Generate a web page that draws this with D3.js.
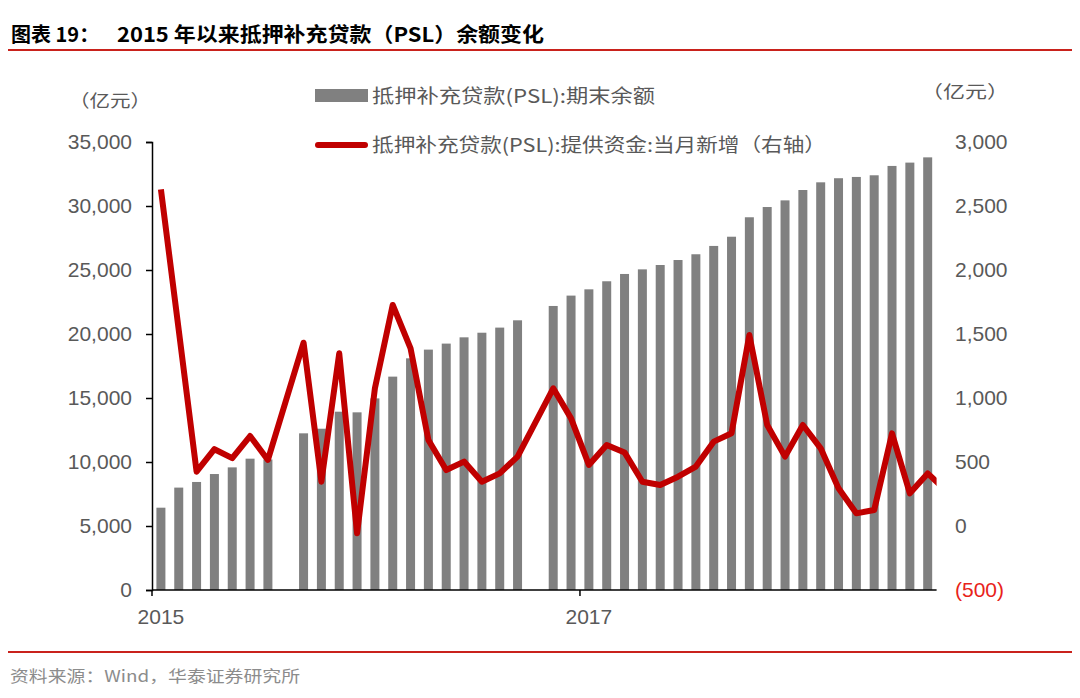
<!DOCTYPE html>
<html><head><meta charset="utf-8">
<script src="https://cdn.jsdelivr.net/npm/d3@7"></script>
<style>body{margin:0;background:#fff}svg{display:block}</style>
</head><body><svg id="c" width="1080" height="698"></svg>
<script>
// ---- data ----
const categories = (() => { const a = []; for (let y = 2015; y <= 2018; y++) for (let m = 1; m <= 12; m++) a.push(y + "-" + String(m).padStart(2, "0")); return a.slice(0, 45); })();
const balance = [6430, 8000, 8440, 9060, 9580, 10260, 10200, null, 12240, 12600, 13930, 13880, 14970, 16670, 18100, 18780, 19250, 19740, 20100, 20500, 21070, null, 22190, 23000, 23490, 24120, 24690, 25050, 25390, 25780, 26230, 26880, 27600, 29120, 29920, 30440, 31250, 31850, 32170, 32270, 32400, 33130, 33390, 33800, null];
const newLoans = [2630, 1530, 424, 600, 530, 703, 516, null, 1432, 346, 1349, -57, 1076, 1727, 1388, 672, 437, 503, 346, 411, 542, null, 1076, 841, 477, 633, 575, 346, 320, 385, 464, 659, 724, 1492, 789, 542, 789, 607, 294, 99, 125, 724, 255, 411, 280];
const leftTicks = [0, 5000, 10000, 15000, 20000, 25000, 30000, 35000];
const rightTicks = [-500, 0, 500, 1000, 1500, 2000, 2500, 3000];
const xTickLabels = [{cat: "2015-01", label: "2015"}, {cat: "2017-01", label: "2017"}];
const seriesNames = ["抵押补充贷款(PSL):期末余额", "抵押补充贷款(PSL):提供资金:当月新增（右轴）"];
const titleA = "图表 19：", titleB = "2015 年以来抵押补充贷款（PSL）余额变化";
const unitText = "（亿元）";
const sourceText = "资料来源：Wind，华泰证券研究所";

// ---- layout ----
const svg = d3.select("#c");
const L = 152, R = 936.6, T = 142, B = 590;
const nSlots = 44;
const x = d3.scaleLinear().domain([-0.5, nSlots - 0.5]).range([L, R]);
const yL = d3.scaleLinear().domain([0, 35000]).range([B, T]);
const yR = d3.scaleLinear().domain([-500, 3000]).range([B, T]);
const numFont = "'Liberation Sans', Arial, sans-serif";
const cjkFont = "'Noto Sans CJK SC', 'Liberation Sans', sans-serif";
const gray = "#595959", red = "#C00000", rule = "#C9221C";

// title
svg.append("text").attr("x", 11).attr("y", 42).attr("font-family", cjkFont).attr("font-weight", "bold")
  .attr("font-size", 20).attr("fill", "#000").text(titleA);
svg.append("text").attr("x", 117).attr("y", 42).attr("font-family", cjkFont).attr("font-weight", "bold")
  .attr("font-size", 20).attr("fill", "#000").attr("textLength", 427).attr("lengthAdjust", "spacingAndGlyphs").text(titleB);
svg.append("rect").attr("x", 8).attr("y", 49).attr("width", 1064).attr("height", 2).attr("fill", rule);
svg.append("rect").attr("x", 8).attr("y", 651).attr("width", 1064).attr("height", 2).attr("fill", rule);
svg.append("text").attr("x", 10).attr("y", 682).attr("font-family", cjkFont).attr("font-size", 16)
  .attr("fill", "#8c8c8c").attr("textLength", 290).attr("lengthAdjust", "spacingAndGlyphs").text(sourceText);

// units
svg.append("text").attr("x", 69).attr("y", 107).attr("font-family", cjkFont).attr("font-size", 17.5)
  .attr("fill", gray).attr("textLength", 82).attr("lengthAdjust", "spacingAndGlyphs").text(unitText);
svg.append("text").attr("x", 921).attr("y", 98).attr("font-family", cjkFont).attr("font-size", 17.5)
  .attr("fill", gray).attr("textLength", 88).attr("lengthAdjust", "spacingAndGlyphs").text(unitText);

// clip
svg.append("defs").append("clipPath").attr("id", "clip").append("rect")
  .attr("x", L).attr("y", 0).attr("width", R - L).attr("height", 698);

// bars
const g = svg.append("g").attr("clip-path", "url(#clip)");
const bw = 9;
g.selectAll("rect.bar").data(balance.map((v, i) => ({v, i})).filter(d => d.v != null)).enter()
  .append("rect").attr("class", "bar")
  .attr("x", d => x(d.i) - bw / 2).attr("width", bw)
  .attr("y", d => yL(d.v)).attr("height", d => B - yL(d.v)).attr("fill", "#808080");

// line
const pts = newLoans.map((v, i) => ({v, i})).filter(d => d.v != null);
g.append("path").datum(pts)
  .attr("d", d3.line().x(d => x(d.i)).y(d => yR(d.v)))
  .attr("fill", "none").attr("stroke", red).attr("stroke-width", 6).attr("stroke-linejoin", "round");

// left axis
const la = svg.append("g").attr("transform", `translate(${L},0)`)
  .call(d3.axisLeft(yL).tickValues(leftTicks).tickSize(6).tickPadding(14).tickFormat(d3.format(",")));
la.select(".domain").attr("stroke", "#000").attr("stroke-width", 1.5);
la.selectAll(".tick line").attr("stroke", "#000").attr("stroke-width", 1.5);
la.selectAll("text").attr("font-family", numFont).attr("font-size", 21).attr("fill", gray);

// right axis labels (no line)
const fmtR = v => v < 0 ? "(" + d3.format(",")(-v) + ")" : d3.format(",")(v);
svg.append("g").selectAll("text").data(rightTicks).enter().append("text")
  .attr("x", 955).attr("y", d => yR(d)).attr("dy", "0.35em")
  .attr("font-family", numFont).attr("font-size", 21)
  .attr("fill", d => d < 0 ? "#E8231A" : gray).text(fmtR);

// x axis
svg.append("line").attr("x1", L).attr("x2", R).attr("y1", B).attr("y2", B).attr("stroke", "#000").attr("stroke-width", 1.5);
xTickLabels.forEach(t => {
  const i = categories.indexOf(t.cat);
  svg.append("line").attr("x1", x(i - 0.5)).attr("x2", x(i - 0.5)).attr("y1", B).attr("y2", B + 6)
    .attr("stroke", "#000").attr("stroke-width", 1.5);
  svg.append("text").attr("x", x(i)).attr("y", 624).attr("text-anchor", "middle")
    .attr("font-family", numFont).attr("font-size", 21).attr("fill", gray).text(t.label);
});

// legend
svg.append("rect").attr("x", 315).attr("y", 89).attr("width", 53).attr("height", 13).attr("fill", "#808080");
svg.append("text").attr("x", 372).attr("y", 103).attr("font-family", cjkFont).attr("font-size", 19)
  .attr("fill", gray).attr("textLength", 283).attr("lengthAdjust", "spacingAndGlyphs").text(seriesNames[0]);
svg.append("line").attr("x1", 318).attr("x2", 365).attr("y1", 145).attr("y2", 145)
  .attr("stroke", red).attr("stroke-width", 6).attr("stroke-linecap", "round");
svg.append("text").attr("x", 372).attr("y", 152).attr("font-family", cjkFont).attr("font-size", 19)
  .attr("fill", gray).attr("textLength", 454).attr("lengthAdjust", "spacingAndGlyphs").text(seriesNames[1]);
</script></body></html>
